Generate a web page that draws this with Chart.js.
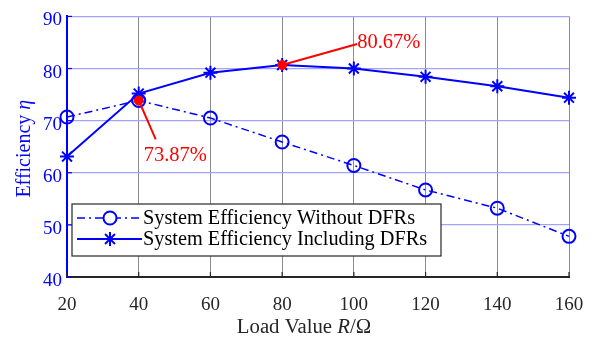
<!DOCTYPE html>
<html>
<head>
<meta charset="utf-8">
<script src="https://cdn.jsdelivr.net/npm/chart.js@4.4.1/dist/chart.umd.min.js"></script>
<style>
  html, body { margin: 0; padding: 0; background: #fff; }
  #wrap { width: 607px; height: 339px; position: relative; }
</style>
</head>
<body>
<div id="wrap"><canvas id="c" width="607" height="339"></canvas></div>
<script>
// Load resistance (ohm) and measured efficiency (%)
const loadValues = [20, 40, 60, 80, 100, 120, 140, 160];
const effWithoutDFR = [70.7, 73.87, 70.5, 65.9, 61.4, 56.7, 53.2, 47.8];
const effWithDFR = [63.1, 75.2, 79.2, 80.67, 80.0, 78.4, 76.6, 74.4];

// Highlighted operating points with their value labels
const markX = [40, 80];
const markY = [73.87, 80.67];
const markText = ['73.87%', '80.67%'];

const seriesNames = ['System Efficiency Without DFRs', 'System Efficiency Including DFRs'];

const xTicks = [20, 40, 60, 80, 100, 120, 140, 160];
const yTicks = [40, 50, 60, 70, 80, 90];

const FONT = '"Liberation Serif", "Times New Roman", serif';
const BLUE = '#0000ff';
const RED = '#ff0000';
const DARK = '#262626';

const toPts = (xs, ys) => xs.map((x, i) => ({ x, y: ys[i] }));

// Inward tick marks, axis titles, callouts and the boxed legend
const decorPlugin = {
  id: 'decor',
  afterDatasetsDraw(chart) {
    const { ctx, chartArea: a, scales: { x, y } } = chart;
    ctx.save();

    // inward ticks
    ctx.lineWidth = 1.2;
    ctx.strokeStyle = DARK;
    xTicks.forEach(v => {
      const px = x.getPixelForValue(v);
      ctx.beginPath(); ctx.moveTo(px, a.bottom); ctx.lineTo(px, a.bottom - 5); ctx.stroke();
    });
    ctx.strokeStyle = BLUE;
    yTicks.forEach(v => {
      const py = y.getPixelForValue(v);
      ctx.beginPath(); ctx.moveTo(a.left, py); ctx.lineTo(a.left + 5, py); ctx.stroke();
    });

    // callouts for the highlighted points
    const offsets = [
      { lx: 17, ly: 39, tx: 5, ty: 55 },
      { lx: 75, ly: -21, tx: 75, ty: -22 }
    ];
    ctx.strokeStyle = RED;
    ctx.fillStyle = RED;
    ctx.lineWidth = 2;
    ctx.font = '20.5px ' + FONT;
    ctx.textBaseline = 'middle';
    ctx.textAlign = 'left';
    markX.forEach((mx, i) => {
      const px = x.getPixelForValue(mx);
      const py = y.getPixelForValue(markY[i]);
      const o = offsets[i];
      ctx.beginPath(); ctx.moveTo(px, py); ctx.lineTo(px + o.lx, py + o.ly); ctx.stroke();
      ctx.fillText(markText[i], px + o.tx, py + o.ty);
    });

    // legend box
    const bx = a.left + 5, by = a.bottom - 73, bw = 369, bh = 52;
    ctx.fillStyle = '#fff';
    ctx.fillRect(bx, by, bw, bh);
    ctx.strokeStyle = DARK;
    ctx.lineWidth = 1.2;
    ctx.strokeRect(bx, by, bw, bh);

    const rows = [by + 14, by + 35];
    const ds = chart.data.datasets;
    [ds[1], ds[2]].forEach((d, i) => {
      const ry = rows[i];
      ctx.strokeStyle = BLUE;
      ctx.lineWidth = d.borderWidth;
      ctx.setLineDash(d.borderDash || []);
      ctx.beginPath(); ctx.moveTo(bx + 5, ry); ctx.lineTo(bx + 70, ry); ctx.stroke();
      ctx.setLineDash([]);
      ctx.lineWidth = d.pointBorderWidth;
      Chart.helpers.drawPoint(ctx, { pointStyle: d.pointStyle, radius: d.pointRadius, rotation: 0, borderWidth: d.pointBorderWidth }, bx + 38, ry);
      ctx.fillStyle = '#000';
      ctx.font = '20.3px ' + FONT;
      ctx.textAlign = 'left';
      ctx.textBaseline = 'middle';
      ctx.fillText(seriesNames[i], bx + 71, ry + 1);
    });

    // axis titles with italic symbols
    const drawMixed = (parts, cx, cy, color, size) => {
      let total = 0;
      parts.forEach(p => { ctx.font = (p.it ? 'italic ' : '') + size + 'px ' + FONT; total += ctx.measureText(p.t).width; });
      let cur = cx - total / 2;
      ctx.fillStyle = color;
      ctx.textAlign = 'left';
      ctx.textBaseline = 'middle';
      parts.forEach(p => {
        ctx.font = (p.it ? 'italic ' : '') + size + 'px ' + FONT;
        ctx.fillText(p.t, cur, cy);
        cur += ctx.measureText(p.t).width;
      });
    };
    drawMixed([{ t: 'Load Value ' }, { t: 'R', it: true }, { t: '/\u03A9' }], (a.left + a.right) / 2 - 14, 328, DARK, 20.8);

    ctx.save();
    ctx.translate(25, (a.top + a.bottom) / 2 + 2);
    ctx.rotate(-Math.PI / 2);
    drawMixed([{ t: 'Efficiency ' }, { t: '\u03B7', it: true }], 0, 0, BLUE, 20);
    ctx.restore();

    ctx.restore();
  }
};

new Chart(document.getElementById('c'), {
  type: 'line',
  data: {
    datasets: [
      {
        data: toPts(markX, markY),
        showLine: false,
        clip: false,
        pointStyle: 'circle',
        pointRadius: 4.5,
        pointBackgroundColor: RED,
        pointBorderColor: RED,
        pointBorderWidth: 1
      },
      {
        data: toPts(loadValues, effWithoutDFR),
        clip: false,
        borderColor: BLUE,
        borderWidth: 1.5,
        borderDash: [8, 4, 2, 4],
        pointStyle: 'circle',
        pointRadius: 6.5,
        pointBorderWidth: 2,
        pointBorderColor: BLUE,
        pointBackgroundColor: 'rgba(0,0,0,0)',
        tension: 0
      },
      {
        data: toPts(loadValues, effWithDFR),
        clip: false,
        borderColor: BLUE,
        borderWidth: 2,
        pointStyle: 'star',
        pointRadius: 7,
        pointBorderWidth: 2,
        pointBorderColor: BLUE,
        pointBackgroundColor: BLUE,
        tension: 0
      }
    ]
  },
  options: {
    responsive: false,
    animation: false,
    events: [],
    layout: { padding: { top: 15, right: 38, left: 0, bottom: 0 } },
    plugins: { legend: { display: false }, tooltip: { enabled: false } },
    scales: {
      x: {
        type: 'linear',
        min: 20, max: 160,
        afterBuildTicks: s => { s.ticks = xTicks.map(v => ({ value: v })); },
        afterFit: s => { s.height = 62; },
        grid: { color: '#8c8c8c', lineWidth: 1, drawTicks: false },
        border: { color: DARK, width: 2 },
        ticks: { color: DARK, padding: 17, font: { family: FONT, size: 19 }, maxRotation: 0 }
      },
      y: {
        min: 40, max: 90,
        afterBuildTicks: s => { s.ticks = yTicks.map(v => ({ value: v })); },
        afterFit: s => { s.width = 67; },
        grid: { color: '#a3a3ff', lineWidth: 1.2, drawTicks: false },
        border: { color: BLUE, width: 2 },
        ticks: { color: BLUE, padding: 5, labelOffset: 4, font: { family: FONT, size: 19 } }
      }
    }
  },
  plugins: [decorPlugin]
});
</script>
</body>
</html>
